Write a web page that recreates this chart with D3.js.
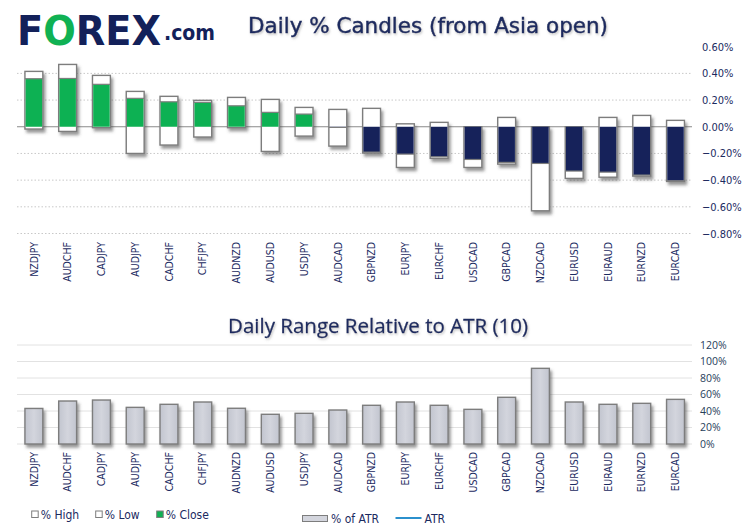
<!DOCTYPE html>
<html><head><meta charset="utf-8">
<script src="https://cdn.jsdelivr.net/npm/d3@7"></script>
<style>
html,body{margin:0;padding:0;background:#fff;}
svg{display:block;}
</style></head>
<body>
<svg id="chart" width="746" height="531"></svg>
<script>
const pairs = ["NZDJPY","AUDCHF","CADJPY","AUDJPY","CADCHF","CHFJPY","AUDNZD","AUDUSD","USDJPY","AUDCAD","GBPNZD","EURJPY","EURCHF","USDCAD","GBPCAD","NZDCAD","EURUSD","EURAUD","EURNZD","EURCAD"];
const highPct  = [0.415,0.467,0.385,0.265,0.228,0.198,0.220,0.205,0.145,0.130,0.138,0.022,0.033,0.000,0.070,0.000,0.000,0.070,0.085,0.048];
const lowPct   = [-0.017,-0.035,-0.007,-0.200,-0.137,-0.077,-0.007,-0.185,-0.070,-0.145,-0.197,-0.305,-0.237,-0.305,-0.280,-0.630,-0.387,-0.378,-0.370,-0.410];
const closePct = [0.360,0.362,0.318,0.213,0.187,0.183,0.157,0.108,0.095,-0.005,-0.190,-0.205,-0.225,-0.245,-0.267,-0.275,-0.332,-0.340,-0.362,-0.405];
const atrPct   = [43.1,52.1,53.3,44.4,48.1,50.9,43.3,36.0,37.2,41.2,46.9,50.9,46.9,42.0,56.6,91.7,50.9,48.1,49.3,54.1];
const atrLevel = 100;
const topTicks = [-0.8,-0.6,-0.4,-0.2,0,0.2,0.4,0.6];
const botTicks = [0,20,40,60,80,100,120];

const NAVY = "#13215a", GREEN = "#10b153", TXT = "#1b2a5f";
const svg = d3.select("#chart");
const defs = svg.append("defs");
const f = defs.append("filter").attr("id","shadow").attr("x","-30%").attr("y","-30%").attr("width","170%").attr("height","170%");
f.append("feDropShadow").attr("dx",2).attr("dy",3).attr("stdDeviation",1.8).attr("flood-color","#444").attr("flood-opacity",0.55);
const ft = defs.append("filter").attr("id","tshadow").attr("x","-10%").attr("y","-30%").attr("width","120%").attr("height","170%");
ft.append("feDropShadow").attr("dx",1).attr("dy",1.5).attr("stdDeviation",1).attr("flood-color","#888").attr("flood-opacity",0.5);
const grad = defs.append("linearGradient").attr("id","barg").attr("x1","0").attr("x2","1").attr("y1","0").attr("y2","0");
grad.append("stop").attr("offset","0%").attr("stop-color","#c2c5cf");
grad.append("stop").attr("offset","50%").attr("stop-color","#d3d5dd");
grad.append("stop").attr("offset","100%").attr("stop-color","#c2c5cf");

const x = d3.scaleBand().domain(pairs).range([17,692.4]).paddingInner(0.47).paddingOuter(0.235);

// ---------- Logo ----------
const logo = svg.append("g").attr("font-family","DejaVu Sans").attr("font-weight","bold");
const lt = logo.append("text").attr("x",17).attr("y",45).attr("font-size",40)
  .attr("textLength",144).attr("lengthAdjust","spacingAndGlyphs");
lt.append("tspan").attr("fill",NAVY).text("F");
lt.append("tspan").attr("fill",GREEN).text("O");
lt.append("tspan").attr("fill",NAVY).text("REX");
logo.append("text").attr("x",164).attr("y",40).attr("font-size",22).attr("fill",NAVY).attr("textLength",51).attr("lengthAdjust","spacingAndGlyphs").text(".com");

// ---------- Top chart ----------
const y1 = d3.scaleLinear().domain([-0.8,0.6]).range([233.5,46.7]);
svg.append("text").attr("x",248).attr("y",32.5)
  .attr("font-family","DejaVu Sans").attr("font-size",21).attr("fill",TXT)
  .attr("stroke",TXT).attr("stroke-width",0.45)
  .attr("textLength",360).attr("lengthAdjust","spacingAndGlyphs").attr("filter","url(#tshadow)")
  .text("Daily % Candles (from Asia open)");

const g1 = svg.append("g");
g1.selectAll("line.grid").data(topTicks.filter(t=>t!==0 && t<0.6)).join("line")
  .attr("x1",17).attr("x2",692).attr("y1",d=>y1(d)).attr("y2",d=>y1(d))
  .attr("stroke","#c8c8c8").attr("stroke-width",1).attr("stroke-dasharray","1.5,2");
g1.append("line").attr("x1",17).attr("x2",692).attr("y1",y1(0)).attr("y2",y1(0)).attr("stroke","#8a8a8a").attr("stroke-width",1.2);

const yAx1 = d3.axisRight(y1).tickValues(topTicks).tickSize(0).tickPadding(0).tickFormat(d=>d3.format(".2f")(d)+"%");
g1.append("g").attr("transform","translate(702,0)").call(yAx1)
  .call(s=>s.select(".domain").remove())
  .selectAll("text").attr("font-family","DejaVu Sans Condensed").attr("font-size",11).attr("fill",TXT);

const candles = g1.selectAll("g.c").data(pairs).join("g").attr("filter","url(#shadow)");
candles.append("rect").attr("x",d=>x(d)).attr("width",x.bandwidth())
  .attr("y",(d,i)=>y1(highPct[i])).attr("height",(d,i)=>y1(lowPct[i])-y1(highPct[i]))
  .attr("fill","#fff").attr("stroke","#7d7d7d").attr("stroke-width",1.4);
candles.append("rect").attr("x",d=>x(d)+0.7).attr("width",x.bandwidth()-1.4)
  .attr("y",(d,i)=>y1(Math.max(0,closePct[i]))).attr("height",(d,i)=>Math.abs(y1(closePct[i])-y1(0)))
  .attr("fill",(d,i)=>closePct[i]>=0?GREEN:NAVY);
candles.append("line").attr("x1",d=>x(d)).attr("x2",d=>x(d)+x.bandwidth())
  .attr("y1",(d,i)=>y1(closePct[i])).attr("y2",(d,i)=>y1(closePct[i]))
  .attr("stroke","#7d7d7d").attr("stroke-width",1.2);

const xAx1 = d3.axisBottom(x).tickSize(0).tickPadding(0);
g1.append("g").attr("transform","translate(0,242)").call(xAx1)
  .call(s=>s.select(".domain").remove())
  .selectAll("text").attr("font-family","DejaVu Sans Condensed").attr("font-size",10.5).attr("fill",TXT)
  .attr("transform","rotate(-90)").attr("text-anchor","end").attr("dy","0.35em").attr("x",0).attr("y",0);

// ---------- Bottom chart ----------
const y2 = d3.scaleLinear().domain([0,120]).range([444,345]);
svg.append("text").attr("x",228).attr("y",332.5)
  .attr("font-family","Open Sans").attr("font-size",20).attr("fill",TXT)
  .attr("stroke",TXT).attr("stroke-width",0.3)
  .attr("textLength",300).attr("lengthAdjust","spacingAndGlyphs").attr("filter","url(#tshadow)")
  .text("Daily Range Relative to ATR (10)");

const g2 = svg.append("g");
g2.selectAll("line.grid").data(botTicks).join("line")
  .attr("x1",17).attr("x2",692).attr("y1",d=>y2(d)).attr("y2",d=>y2(d))
  .attr("stroke","#e2e2e2").attr("stroke-width",1);
const yAx2 = d3.axisRight(y2).tickValues(botTicks).tickSize(0).tickPadding(0).tickFormat(d=>d+"%");
g2.append("g").attr("transform","translate(700,0)").call(yAx2)
  .call(s=>s.select(".domain").remove())
  .selectAll("text").attr("font-family","Open Sans").attr("font-size",10.5).attr("fill","#27405a");

g2.selectAll("rect.atr").data(pairs).join("rect").attr("class","atr")
  .attr("x",d=>x(d)).attr("width",x.bandwidth())
  .attr("y",(d,i)=>y2(atrPct[i])).attr("height",(d,i)=>y2(0)-y2(atrPct[i]))
  .attr("fill","url(#barg)").attr("stroke","#7d7d7d").attr("stroke-width",1.4).attr("filter","url(#shadow)");

const line = d3.line().x(d=>x(d)+x.bandwidth()/2).y(()=>y2(atrLevel));
g2.append("path").datum(pairs).attr("d",line).attr("fill","none")
  .attr("stroke","#2b90cd").attr("stroke-width",3).attr("filter","url(#shadow)");

const xAx2 = d3.axisBottom(x).tickSize(0).tickPadding(0);
g2.append("g").attr("transform","translate(0,452)").call(xAx2)
  .call(s=>s.select(".domain").remove())
  .selectAll("text").attr("font-family","DejaVu Sans Condensed").attr("font-size",10.5).attr("fill",TXT)
  .attr("transform","rotate(-90)").attr("text-anchor","end").attr("dy","0.35em").attr("x",0).attr("y",0);

// ---------- Legends ----------
const leg = svg.append("g").attr("font-family","DejaVu Sans Condensed").attr("font-size",12).attr("fill",TXT);
const candleLeg = [{k:"% High",x:31.7,c:"#fff"},{k:"% Low",x:95.7,c:"#fff"},{k:"% Close",x:156.7,c:GREEN}];
candleLeg.forEach(o=>{
  leg.append("rect").attr("x",o.x).attr("y",511).attr("width",6.5).attr("height",6.5).attr("fill",o.c).attr("stroke","#7d7d7d").attr("stroke-width",1);
  leg.append("text").attr("x",o.x+9).attr("y",518.5).text(o.k);
});
leg.append("rect").attr("x",302.5).attr("y",515.5).attr("width",25).attr("height",6).attr("fill","#d3d5dd").attr("stroke","#7d7d7d").attr("stroke-width",1);
leg.append("text").attr("x",331).attr("y",523).text("% of ATR");
leg.append("line").attr("x1",395.5).attr("x2",421.5).attr("y1",518).attr("y2",518).attr("stroke","#2b90cd").attr("stroke-width",2);
leg.append("text").attr("x",424.5).attr("y",523).text("ATR");
</script>
</body></html>
